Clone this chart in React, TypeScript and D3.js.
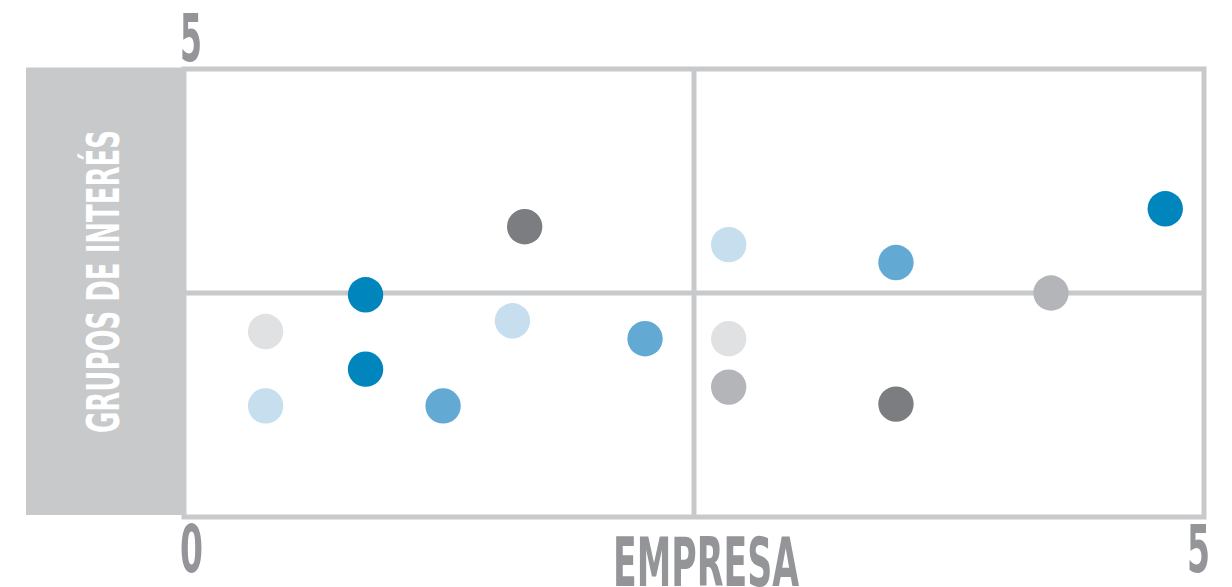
import React from "react";
import * as d3 from "d3";

// Series (grouped by colour): [EMPRESA, GRUPOS DE INTERÉS]
const seriesNames = ["azulOscuro", "azulMedio", "azulClaro", "grisClaro", "grisMedio", "grisOscuro"];
const azulOscuroX = [0.89, 0.89, 4.81];
const azulOscuroY = [2.48, 1.65, 3.44];
const azulMedioX = [1.27, 2.26, 3.49];
const azulMedioY = [1.24, 1.99, 2.84];
const azulClaroX = [0.4, 1.61, 2.67];
const azulClaroY = [1.24, 2.19, 3.04];
const grisClaroX = [0.4, 2.67];
const grisClaroY = [2.07, 1.99];
const grisMedioX = [2.67, 4.25];
const grisMedioY = [1.45, 2.5];
const grisOscuroX = [1.67, 3.49];
const grisOscuroY = [3.24, 1.26];
const seriesColors = ["#0085bd", "#62aad4", "#c7deee", "#e0e1e3", "#b4b5b8", "#7c7d81"];

const axisMin = 0;
const axisMax = 5;
const xTitle = "EMPRESA";
const yTitle = "GRUPOS DE INTERÉS";

const seriesX = [azulOscuroX, azulMedioX, azulClaroX, grisClaroX, grisMedioX, grisOscuroX];
const seriesY = [azulOscuroY, azulMedioY, azulClaroY, grisClaroY, grisMedioY, grisOscuroY];

const W = 1232;
const H = 587;
const FONT = "'Liberation Sans Narrow', 'DejaVu Sans Condensed', 'Roboto', sans-serif";

export default function App() {
  const x = d3.scaleLinear().domain([axisMin, axisMax]).range([184, 1204]);
  const y = d3.scaleLinear().domain([axisMin, axisMax]).range([517, 69]);
  const mid = (axisMin + axisMax) / 2;
  const grid = "#c8c9cb";
  const labelColor = "#939598";

  const points = seriesNames.flatMap((name, si) =>
    seriesX[si].map((vx, i) => ({ key: `${name}-${i}`, vx, vy: seriesY[si][i], color: seriesColors[si] }))
  );

  return (
    <svg
      width={W}
      height={H}
      style={{ position: "absolute", left: 0, top: 0, display: "block", background: "#fff" }}
    >
      {/* plot frame */}
      <rect
        x={x(axisMin)}
        y={y(axisMax)}
        width={x(axisMax) - x(axisMin)}
        height={y(axisMin) - y(axisMax)}
        fill="#fff"
        stroke={grid}
        strokeWidth={5}
      />
      {/* quadrant lines */}
      <line x1={x(mid)} x2={x(mid)} y1={y(axisMax)} y2={y(axisMin)} stroke={grid} strokeWidth={5} />
      <line x1={x(axisMin)} x2={x(axisMax)} y1={y(mid)} y2={y(mid)} stroke={grid} strokeWidth={5} />

      {/* left band with y title */}
      <rect x={26} y={y(axisMax) - 1.5} width={x(axisMin) + 1 - 26} height={y(axisMin) - 2 - (y(axisMax) - 1.5)} fill={grid} />
      <text
        transform={`translate(118.5, 433) rotate(-90)`}
        fontFamily={FONT}
        fontWeight="bold"
        fontSize={44}
        fill="#fff"
        textLength={303}
        lengthAdjust="spacingAndGlyphs"
      >
        {yTitle}
      </text>

      {/* points */}
      {points.map((p) => (
        <circle key={p.key} cx={x(p.vx)} cy={y(p.vy)} r={17.7} fill={p.color} />
      ))}

      {/* axis value labels */}
      <text x={180} y={61} fontFamily={FONT} fontWeight="bold" fontSize={66} fill={labelColor} textLength={22} lengthAdjust="spacingAndGlyphs">
        {String(axisMax)}
      </text>
      <text x={180} y={572} fontFamily={FONT} fontWeight="bold" fontSize={65} fill={labelColor} textLength={23} lengthAdjust="spacingAndGlyphs">
        {String(axisMin)}
      </text>
      <text x={1187} y={572} fontFamily={FONT} fontWeight="bold" fontSize={65} fill={labelColor} textLength={23} lengthAdjust="spacingAndGlyphs">
        {String(axisMax)}
      </text>
      <text x={613} y={586} fontFamily={FONT} fontWeight="bold" fontSize={67} fill={labelColor} textLength={186} lengthAdjust="spacingAndGlyphs">
        {xTitle}
      </text>
    </svg>
  );
}
